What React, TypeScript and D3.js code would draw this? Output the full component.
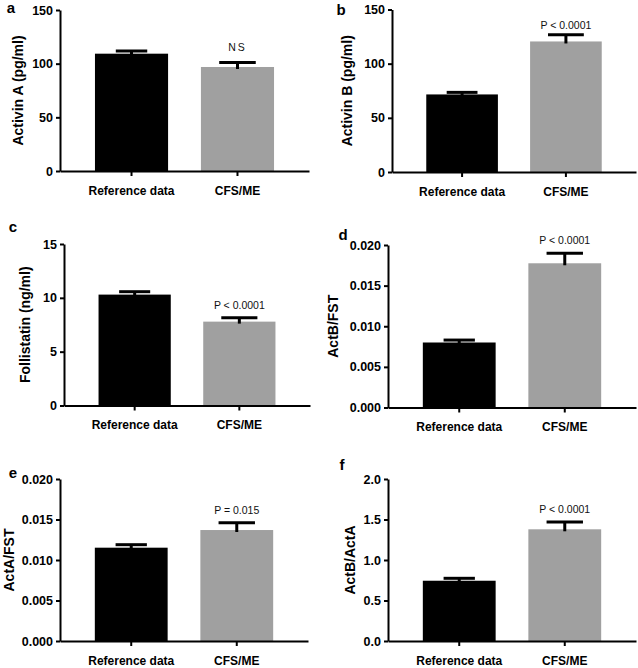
import React, { useRef, useEffect } from 'react';
import * as d3 from 'd3';

// group names on the x axis
const categories = ['Reference data', 'CFS/ME'];

// one entry per panel a..f
const panelLetters = ['a', 'b', 'c', 'd', 'e', 'f'];
const yLabels = ['Activin A (pg/ml)', 'Activin B (pg/ml)', 'Follistatin (ng/ml)', 'ActB/FST', 'ActA/FST', 'ActB/ActA'];
const yMax = [150, 150, 15, 0.02, 0.02, 2];
const yTicks = [
  [0, 50, 100, 150],
  [0, 50, 100, 150],
  [0, 5, 10, 15],
  [0, 0.005, 0.01, 0.015, 0.02],
  [0, 0.005, 0.01, 0.015, 0.02],
  [0, 0.5, 1, 1.5, 2],
];
const tickFormats = ['.0f', '.0f', '.0f', '.3f', '.3f', '.1f'];
const refMean = [109.3, 71.6, 10.3, 0.008, 0.01152, 0.744];
const refSem = [2.4, 1.9, 0.27, 0.0003, 0.00037, 0.03];
const cfsMean = [96.9, 120.5, 7.79, 0.01775, 0.0137, 1.379];
const cfsSem = [4.3, 6.1, 0.37, 0.00123, 0.0009, 0.09];
const pLabels = ['NS', 'P < 0.0001', 'P < 0.0001', 'P < 0.0001', 'P = 0.015', 'P < 0.0001'];

// panel placement (axis corner positions), label offsets
const layout = [
  { left: 60, right: 309, top: 10, bottom: 171, labelX: 18, letterX: 11, letterY: 13, pGap: 11 },
  { left: 392, right: 636, top: 9.5, bottom: 172, labelX: 347, letterX: 341, letterY: 15, pGap: 6 },
  { left: 64, right: 310, top: 244, bottom: 405.5, labelX: 25, letterX: 13, letterY: 232, pGap: 9 },
  { left: 388, right: 636, top: 245, bottom: 407.5, labelX: 333, letterX: 343, letterY: 240, pGap: 9 },
  { left: 60, right: 308, top: 479, bottom: 641, labelX: 9, letterX: 13, letterY: 478, pGap: 9 },
  { left: 388, right: 636, top: 479, bottom: 641, labelX: 350, letterX: 342, letterY: 470, pGap: 9 },
];

const FONT = '"Liberation Sans", Arial, Helvetica, sans-serif';
const barColors = ['#000000', '#a0a0a0'];

const App = () => {
  const svgRef = useRef<SVGSVGElement>(null);

  useEffect(() => {
    const svg = d3.select(svgRef.current);
    svg.selectAll('*').remove();

    layout.forEach((L, i) => {
      const g = svg.append('g');

      const x = d3.scaleBand<string>()
        .domain(categories)
        .range([L.left, L.right])
        .paddingInner(0.31)
        .paddingOuter(0.33);

      const y = d3.scaleLinear()
        .domain([0, yMax[i]])
        .range([L.bottom, L.top]);

      const means = [refMean[i], cfsMean[i]];
      const sems = [refSem[i], cfsSem[i]];

      // bars
      g.selectAll('.bar')
        .data(categories)
        .join('rect')
        .attr('class', 'bar')
        .attr('x', (d) => x(d)!)
        .attr('width', x.bandwidth())
        .attr('y', (d, k) => y(means[k]))
        .attr('height', (d, k) => L.bottom - y(means[k]))
        .attr('fill', (d, k) => barColors[k]);

      // error bars (upper only)
      categories.forEach((c, k) => {
        const capW = x.bandwidth() * (k === 0 ? 0.43 : 0.5);
        const cx = x(c)! + x.bandwidth() / 2;
        const top = y(means[k] + sems[k]);
        g.append('line')
          .attr('x1', cx).attr('x2', cx)
          .attr('y1', top).attr('y2', y(means[k]) + 2)
          .attr('stroke', '#000').attr('stroke-width', 3);
        g.append('line')
          .attr('x1', cx - capW / 2).attr('x2', cx + capW / 2)
          .attr('y1', top).attr('y2', top)
          .attr('stroke', '#000').attr('stroke-width', 3);
      });

      // significance label above CFS/ME
      const cfsX = x(categories[1])! + x.bandwidth() / 2;
      g.append('text')
        .attr('x', cfsX)
        .attr('y', y(cfsMean[i] + cfsSem[i]) - L.pGap)
        .attr('text-anchor', 'middle')
        .attr('font-family', FONT)
        .attr('font-size', 10.5)
        .attr('letter-spacing', i === 0 ? 2 : 0)
        .attr('fill', '#111')
        .text(pLabels[i]);

      // y axis
      const yAxis = d3.axisLeft(y)
        .tickValues(yTicks[i])
        .tickFormat(d3.format(tickFormats[i]) as any)
        .tickSize(4)
        .tickSizeOuter(0)
        .tickPadding(3);
      const ya = g.append('g')
        .attr('transform', `translate(${L.left},0)`)
        .call(yAxis);

      // x axis
      const xAxis = d3.axisBottom(x).tickSize(5).tickSizeOuter(0).tickPadding(10);
      const xa = g.append('g')
        .attr('transform', `translate(0,${L.bottom})`)
        .call(xAxis);

      [ya, xa].forEach((a) => {
        a.select('.domain').attr('stroke', '#000').attr('stroke-width', 2);
        a.selectAll('.tick line').attr('stroke', '#000').attr('stroke-width', 2);
        a.selectAll('.tick text')
          .attr('fill', '#000')
          .attr('font-family', FONT)
          .attr('font-weight', 'bold');
      });
      ya.selectAll('.tick text').attr('font-size', 12.5);
      xa.selectAll('.tick text').attr('font-size', 12);

      // y label
      const midY = (L.top + L.bottom) / 2;
      g.append('text')
        .attr('transform', `translate(${L.labelX + 5},${midY}) rotate(-90)`)
        .attr('text-anchor', 'middle')
        .attr('font-family', FONT)
        .attr('font-weight', 'bold')
        .attr('font-size', 14)
        .attr('fill', '#000')
        .text(yLabels[i]);

      // panel letter
      g.append('text')
        .attr('x', L.letterX)
        .attr('y', L.letterY)
        .attr('text-anchor', 'middle')
        .attr('font-family', FONT)
        .attr('font-weight', 'bold')
        .attr('font-size', 15)
        .attr('fill', '#000')
        .text(panelLetters[i]);
    });
  }, []);

  return (
    <svg
      ref={svgRef}
      width={638}
      height={668}
      style={{ position: 'absolute', left: 0, top: 0, background: '#fff' }}
    />
  );
};

export default App;
